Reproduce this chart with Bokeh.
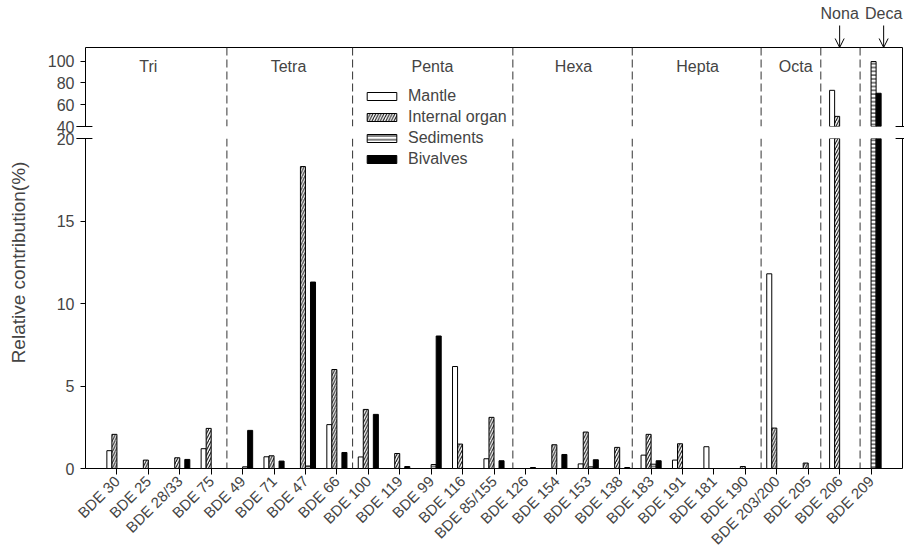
from math import pi
from bokeh.plotting import figure
from bokeh.models import (Range1d, FixedTicker, LinearAxis, Span, Label, Arrow, OpenHead,
                          ColumnDataSource, Legend, LegendItem, CDSView, BooleanFilter)
from bokeh.transform import dodge
from bokeh.layouts import column
from bokeh.embed import file_html
from bokeh.resources import INLINE

# ---------------- data ----------------
categories = ["BDE 30", "BDE 25", "BDE 28/33", "BDE 75", "BDE 49", "BDE 71", "BDE 47", "BDE 66",
              "BDE 100", "BDE 119", "BDE 99", "BDE 116", "BDE 85/155", "BDE 126", "BDE 154",
              "BDE 153", "BDE 138", "BDE 183", "BDE 191", "BDE 181", "BDE 190", "BDE 203/200",
              "BDE 205", "BDE 206", "BDE 209"]
mantle = [1.08, 0, 0, 1.2, 0, 0.71, 0, 2.66, 0.70, 0, 0, 6.18, 0.59, 0, 0, 0.28, 0, 0.81,
          0.51, 1.32, 0, 11.8, 0, 73.2, 0]
internal = [2.07, 0.51, 0.65, 2.43, 0, 0.77, 18.3, 6.0, 3.58, 0.91, 0, 1.48, 3.1, 0, 1.44,
            2.21, 1.28, 2.07, 1.5, 0, 0.12, 2.45, 0.33, 49.3, 0]
sediments = [0, 0, 0, 0, 0.1, 0, 0.15, 0, 0, 0, 0.24, 0, 0, 0, 0, 0.1, 0, 0.26, 0, 0, 0, 0,
             0, 0, 99.6]
bivalves = [0, 0, 0.55, 0, 2.31, 0.45, 11.3, 0.97, 3.28, 0.12, 8.03, 0, 0.47, 0.06, 0.85,
            0.53, 0.06, 0.47, 0, 0, 0, 0, 0, 0, 70.5]

group_names = ["Tri", "Tetra", "Penta", "Hexa", "Hepta", "Octa"]
group_label_x = [1.0, 5.46, 10.04, 14.53, 18.48, 21.6]
dividers = [3.5, 7.5, 12.6, 16.4, 20.5, 22.4, 23.65]
top_names = ["Nona", "Deca"]
top_label_x = [23.0, 24.4]
bottom_ticks = [0, 5, 10, 15, 20]
top_ticks = [40, 60, 80, 100]
series_names = ["Mantle", "Internal organ", "Sediments", "Bivalves"]
y_title = "Relative contribution(%)"

TOP_LO, TOP_HI = 40, 112.5
BOT_LO, BOT_HI = 0, 20

FONT = "Liberation Sans"
idx = list(range(len(categories)))
src = ColumnDataSource(dict(x=idx, mantle=mantle, internal=internal,
                            sediments=sediments, bivalves=bivalves))
X0, X1 = -1, 25
x_range = Range1d(X0, X1)

# page geometry (pixels)
PAGE_W, PAGE_H = 904, 556
LEFT, FRAME_W, RIGHT = 85, 817, 2
TOP_MB, TOP_FH, GAP = 47, 79, 12
BOT_FH, BOT_MB = 330, 88

styles = [
    dict(fill_color="white"),
    dict(fill_color="white", hatch_pattern="/", hatch_scale=5.5, hatch_weight=1, hatch_color="black"),
    dict(fill_color="white", hatch_pattern="-", hatch_scale=3.8, hatch_weight=1, hatch_color="black"),
    dict(fill_color="black"),
]
fields = ["mantle", "internal", "sediments", "bivalves"]
values = [mantle, internal, sediments, bivalves]
offsets = [-0.24, -0.08, 0.08, 0.24]
W = 0.16


def base_fig(yr, fh, mbt, mbb, **kw):
    p = figure(x_range=x_range, y_range=yr, frame_width=FRAME_W, frame_height=fh,
               output_backend="svg", toolbar_location=None,
               min_border_left=LEFT, min_border_right=RIGHT, min_border_top=mbt,
               min_border_bottom=mbb, x_axis_location=None, y_axis_location=None, **kw)
    p.grid.visible = False
    p.outline_line_color = None
    return p


def line_axis():
    return LinearAxis(ticker=FixedTicker(ticks=[]), major_tick_out=0, major_tick_in=0,
                      minor_tick_out=0, minor_tick_in=0, major_label_standoff=0,
                      major_label_text_font_size="0px", axis_line_color="black")


def value_axis(ticks):
    return LinearAxis(ticker=FixedTicker(ticks=ticks), major_tick_out=5, major_tick_in=0,
                      minor_tick_out=0, minor_tick_in=0, major_label_standoff=6,
                      major_label_text_font=FONT, major_label_text_font_size="16px",
                      axis_line_color="black")


def add_bars(p, keep):
    rs = []
    for f, v, off, st in zip(fields, values, offsets, styles):
        view = CDSView(filter=BooleanFilter([keep(val) for val in v]))
        r = p.vbar(x=dodge("x", off, range=p.x_range), top=f, bottom=BOT_LO, width=W,
                   source=src, view=view, line_color="black", line_width=1, **st)
        rs.append(r)
    return rs


def add_dividers(p):
    for d in dividers:
        p.add_layout(Span(location=d, dimension="height", line_dash="8 4",
                          line_color="#333333", line_width=1))


# ---------------- top panel (40-100) ----------------
top = base_fig(Range1d(TOP_LO, TOP_HI), TOP_FH, TOP_MB, GAP)
top.add_layout(value_axis(top_ticks), "left")
top.add_layout(line_axis(), "above")
top.add_layout(line_axis(), "right")
add_dividers(top)
add_bars(top, lambda v: v > TOP_LO)
for g, gx in zip(group_names, group_label_x):
    top.add_layout(Label(x=gx, y=95.3, text=g, text_align="center", text_baseline="middle",
                         text_font=FONT, text_font_size="16px"))

# ---------------- bottom panel (0-20) ----------------
bot = base_fig(Range1d(BOT_LO, BOT_HI), BOT_FH, GAP, BOT_MB, border_fill_color=None,
               margin=(-GAP, 0, 0, 0))
bot.add_layout(value_axis(bottom_ticks), "left")
bot.add_layout(line_axis(), "right")
xa = LinearAxis(ticker=FixedTicker(ticks=idx), major_tick_out=6, major_tick_in=0,
                minor_tick_out=0, minor_tick_in=0, major_label_standoff=4,
                major_label_overrides={i: c for i, c in enumerate(categories)},
                major_label_orientation=pi / 4, major_label_text_font=FONT,
                major_label_text_font_size="15px", axis_line_color="black")
bot.add_layout(xa, "below")
add_dividers(bot)
add_bars(bot, lambda v: v > BOT_HI)          # tall bars, cut at the top of the panel

# ---------------- transparent overlay on the same scales as the lower panel ----------------
px_per_x = FRAME_W / (X1 - X0)
px_per_y = BOT_FH / (BOT_HI - BOT_LO)
bot_zero_px = TOP_MB + TOP_FH + GAP + BOT_FH          # page row of value 0
ov_x = Range1d(X0 - LEFT / px_per_x, X1 + (PAGE_W - LEFT - FRAME_W) / px_per_x)
ov_y = Range1d(-(PAGE_H - bot_zero_px) / px_per_y, bot_zero_px / px_per_y)
ov = figure(x_range=ov_x, y_range=ov_y, width=PAGE_W, height=PAGE_H, output_backend="svg",
            toolbar_location=None, min_border=0, x_axis_location=None, y_axis_location=None,
            border_fill_color=None, background_fill_color=None, margin=(-PAGE_H, 0, 0, 0),
            frame_align=False)
ov.grid.visible = False
ov.outline_line_color = None


def py(page_y):
    """page pixel row -> overlay y value"""
    return (bot_zero_px - page_y) / px_per_y


# bars that fit in the lower panel (drawn here so the legend can use them)
lr = add_bars(ov, lambda v: v <= BOT_HI)

# y-axis title
ov.add_layout(Label(x=X0 - (LEFT - 18) / px_per_x, y=py(262), text=y_title, angle=pi / 2,
                    text_align="center", text_baseline="middle", text_font=FONT,
                    text_font_size="19px"))
# Nona / Deca labels with arrows
for g, gx in zip(top_names, top_label_x):
    ov.add_layout(Label(x=gx, y=py(13), text=g, text_align="center", text_baseline="middle",
                        text_font=FONT, text_font_size="16px"))
    ov.add_layout(Arrow(start=None, end=OpenHead(size=9, line_width=1, line_color="black"),
                        x_start=gx, x_end=gx, y_start=py(25), y_end=py(TOP_MB),
                        line_color="black", line_width=1))
# axis-break marks
for yy in (TOP_MB + TOP_FH, TOP_MB + TOP_FH + GAP):
    for xs, xe in ((X0 - 0.29, X0 + 0.22), (X1 - 0.22, X1 + 0.06)):
        ov.add_layout(Arrow(start=None, end=None, x_start=xs, x_end=xe, y_start=py(yy),
                            y_end=py(yy), line_color="black", line_width=1))
# legend
ov.add_layout(Legend(items=[LegendItem(label=n, renderers=[r]) for n, r in zip(series_names, lr)],
                     location=(278 + LEFT, PAGE_H - 168), orientation="vertical",
                     glyph_width=37, glyph_height=10, label_height=16, spacing=3, padding=0,
                     margin=0, border_line_color=None, background_fill_alpha=0,
                     label_standoff=8, label_text_font=FONT, label_text_font_size="16px"))

layout = column(top, bot, ov, spacing=0)
open("out.html", "w").write(file_html(layout, INLINE))
